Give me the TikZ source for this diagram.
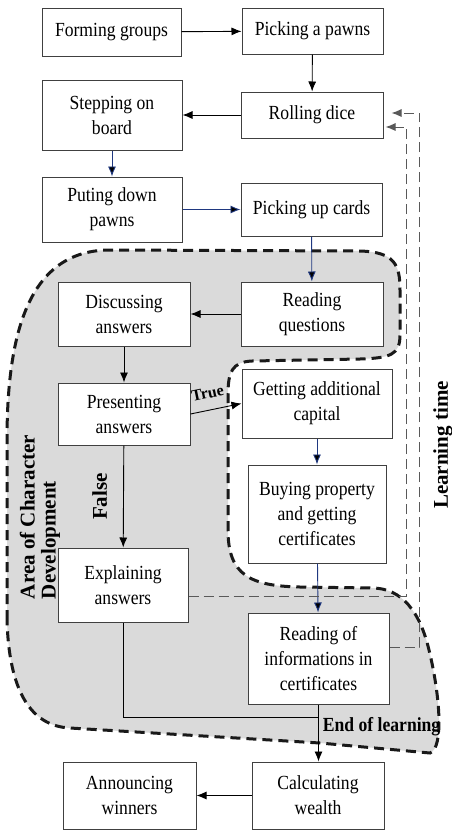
\documentclass[tikz,border=0pt]{standalone}
\usepackage{fontspec}
\setmainfont{Liberation Serif}[FakeStretch=0.88]
\newfontfamily\labelfont{Liberation Serif}
\usepackage{xcolor}
\usetikzlibrary{arrows.meta}
\definecolor{flowblue}{RGB}{31,56,128}
\definecolor{areagray}{RGB}{218,218,218}
\tikzset{
    stage/.style={draw=black!75,fill=white,line width=0.5pt,inner sep=1pt,align=center,font=\fontsize{10}{12.5}\selectfont},
}

\begin{document}
\begin{tikzpicture}[x=0.5pt,y=-0.5pt,>={Latex[length=5pt,width=4pt]},line width=0.45pt,
    side label/.style={inner sep=1pt,font=\labelfont\bfseries\fontsize{10.5}{10.5}\selectfont},
    loop line/.style={draw=black!65,dash pattern=on 5pt off 2.5pt,line width=0.5pt},
    area/.style={fill=areagray,draw=black!90,line width=1.5pt,dash pattern=on 5pt off 3pt}]
        \useasboundingbox (0,0) rectangle (451,831);
        \path[area] (7,620) -- (7,440) .. controls (7,330) and (30,250) .. (110,250)
            -- (360,251) .. controls (395,252) and (400,265) .. (400,290)
            -- (400,335) .. controls (400,355) and (390,358) .. (360,359)
            -- (252,361) .. controls (232,362) and (228,372) .. (228,395)
            -- (228,530) .. controls (228,575) and (250,586) .. (300,587)
            -- (372,588) .. controls (402,588) and (420,612) .. (429,650)
            .. controls (440,695) and (444,748) .. (430,753)
            -- (320,743) -- (70,728) .. controls (30,726) and (9,690) .. (7,620) -- cycle;

        \node[stage,minimum width=69.5pt,minimum height=24pt] (fg) at (111.5,32) {Forming groups};
        \node[stage,minimum width=70.5pt,minimum height=23pt] (pp) at (312.5,31) {Picking a pawns};
        \node[stage,minimum width=71pt,minimum height=23pt] (rd) at (312,115) {Rolling dice};
        \node[stage,minimum width=70pt,minimum height=35pt] (sb) at (112,115) {Stepping on\\board};
        \node[stage,minimum width=70pt,minimum height=32.5pt] (pd) at (112,209.5) {Puting down\\pawns};
        \node[stage,minimum width=70.5pt,minimum height=26.5pt] (pc) at (311.5,209.5) {Picking up cards};
        \node[stage,minimum width=66pt,minimum height=32pt] (da) at (124,314) {Discussing\\answers};
        \node[stage,minimum width=71pt,minimum height=32pt] (rq) at (312,314) {Reading\\questions};
        \node[stage,minimum width=66pt,minimum height=31pt] (pa) at (124,414) {Presenting\\answers};
        \node[stage,minimum width=75pt,minimum height=34.5pt] (ga) at (317,403.5) {Getting additional\\capital};
        \node[stage,minimum width=69pt,minimum height=49pt] (bp) at (317,514) {Buying property\\and getting\\certificates};
        \node[stage,minimum width=65pt,minimum height=37pt] (ea) at (123,585) {Explaining\\answers};
        \node[stage,minimum width=70.5pt,minimum height=45.5pt] (ri) at (318.5,658.5) {Reading of\\informations in\\certificates};
        \node[stage,minimum width=66pt,minimum height=33.5pt] (cw) at (318,795.5) {Calculating\\wealth};
        \node[stage,minimum width=66.5pt,minimum height=33.5pt] (aw) at (129.5,795.5) {Announcing\\winners};
        \coordinate (merge) at (318.5,717);

        \node[side label,rotate=90] (lt) at (443,445) {Learning time};
        \node[side label,rotate=90,align=left] (acd) at (40,517) {Area of Character\\Development};

        \path[->]
            (fg) edge (pp)
            (pp) edge (rd)
            (rd) edge (sb)
            (rq) edge (da)
            (da) edge (pa)
            (cw) edge (aw)
            ;
        \path[->,draw=flowblue]
            (sb) edge (pd)
            (pd) edge (pc)
            (pc) edge (rq)
            (ga) edge (bp)
            (bp) edge (ri)
            ;
        \draw[->] (pa.east) -- node[sloped,above=4.5pt,pos=0.4,inner sep=1pt,font=\labelfont\bfseries\fontsize{8}{8}\selectfont] {True} (ga.west);
        \draw[->] (pa) -- node[rotate=90,above=7pt,side label] {False} (ea);
        \draw (ea.south) |- (merge);
        \draw[->] (ri.south) -- node[right=1pt,pos=0.38,inner sep=1pt,font=\bfseries\fontsize{10}{10}\selectfont] {End of learning} (ri.south |- cw.north);
        \draw[loop line,->] ([yshift=-5.5pt]ea.east) -| ([xshift=11.5pt,yshift=-6pt]rd.east) -- ([xshift=1pt,yshift=-6pt]rd.east);
        \draw[loop line,->] ([yshift=5.75pt]ri.east) -| ([xshift=18pt,yshift=1pt]rd.east) -- ([xshift=4pt,yshift=1pt]rd.east);
\end{tikzpicture}
\end{document}
